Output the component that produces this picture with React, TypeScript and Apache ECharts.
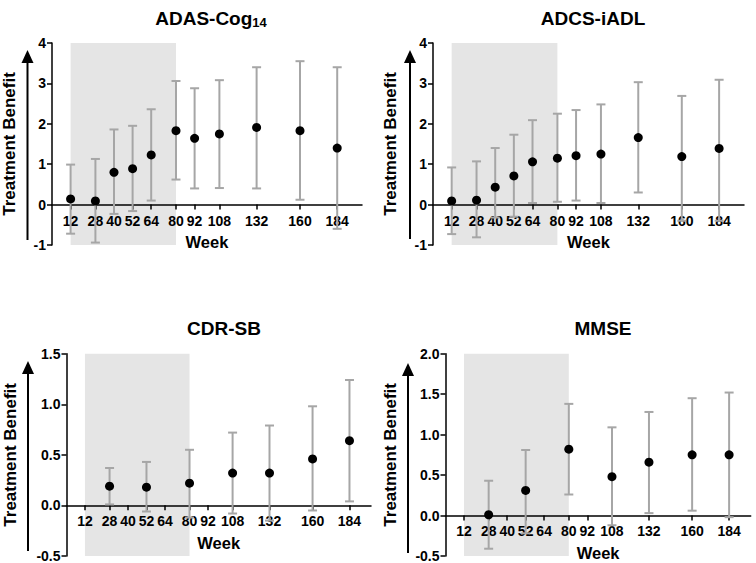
import React, { useEffect, useRef } from "react";
import * as echarts from "echarts";

// ---- data ----
const weekTicks = [12, 28, 40, 52, 64, 80, 92, 108, 132, 160, 184];
const shadeRange = [12, 80];

const adasWeeks = [12, 28, 40, 52, 64, 80, 92, 108, 132, 160, 184];
const adasMean = [0.14, 0.09, 0.8, 0.89, 1.23, 1.83, 1.64, 1.75, 1.91, 1.83, 1.4];
const adasLower = [-0.72, -0.94, -0.23, -0.16, 0.1, 0.62, 0.4, 0.41, 0.4, 0.12, -0.6];
const adasUpper = [0.99, 1.13, 1.86, 1.95, 2.36, 3.06, 2.88, 3.08, 3.4, 3.55, 3.4];

const adcsWeeks = [12, 28, 40, 52, 64, 80, 92, 108, 132, 160, 184];
const adcsMean = [0.09, 0.11, 0.43, 0.71, 1.06, 1.15, 1.21, 1.25, 1.66, 1.19, 1.39];
const adcsLower = [-0.73, -0.81, -0.32, -0.3, 0.04, 0.07, 0.1, 0.04, 0.3, -0.4, -0.4];
const adcsUpper = [0.92, 1.07, 1.4, 1.73, 2.09, 2.25, 2.34, 2.48, 3.03, 2.69, 3.09];

const cdrWeeks = [28, 52, 80, 108, 132, 160, 184];
const cdrMean = [0.19, 0.18, 0.22, 0.32, 0.32, 0.46, 0.64];
const cdrLower = [0.01, -0.06, -0.12, -0.08, -0.15, -0.05, 0.04];
const cdrUpper = [0.37, 0.43, 0.55, 0.72, 0.79, 0.98, 1.24];

const mmseWeeks = [28, 52, 80, 108, 132, 160, 184];
const mmseMean = [0.01, 0.31, 0.82, 0.48, 0.66, 0.75, 0.75];
const mmseLower = [-0.41, -0.22, 0.26, -0.12, 0.03, 0.06, -0.02];
const mmseUpper = [0.43, 0.81, 1.38, 1.09, 1.28, 1.45, 1.52];

const titles = ["{a|ADAS-Cog}{s|14}", "{a|ADCS-iADL}", "{a|CDR-SB}", "{a|MMSE}"];
const yNames = ["Treatment Benefit", "Treatment Benefit", "Treatment Benefit", "Treatment Benefit"];
const xName = "Week";
const yRanges = [
  [-1, 4, 1],
  [-1, 4, 1],
  [-0.5, 1.5, 0.5],
  [-0.5, 2, 0.5],
];
const xMax = [200, 200, 198, 198];

const FONT = "'Liberation Sans', Arial, Helvetica, sans-serif";
const H = 563;

export default function App() {
  const ref = useRef<HTMLDivElement>(null);
  useEffect(() => {
    if (!ref.current) return;
    const chart = echarts.init(ref.current, null, { renderer: "svg" });

    const panels = [
      { w: adasWeeks, m: adasMean, lo: adasLower, hi: adasUpper },
      { w: adcsWeeks, m: adcsMean, lo: adcsLower, hi: adcsUpper },
      { w: cdrWeeks, m: cdrMean, lo: cdrLower, hi: cdrUpper },
      { w: mmseWeeks, m: mmseMean, lo: mmseLower, hi: mmseUpper },
    ];

    const layout = [
      { left: 52, right: 394, top: 43, bottom: 318, titleX: 206, titleY: 2, nameGap: 34, arrowX: 27.5, arrowTop: 50, arrowBottom: 240 },
      { left: 433, right: 12, top: 43, bottom: 318, titleX: 588, titleY: 2, nameGap: 34, arrowX: 410, arrowTop: 50, arrowBottom: 239 },
      { left: 66.5, right: 385, top: 353.7, bottom: 6.7, titleX: 219, titleY: 312, nameGap: 48, arrowX: 28, arrowTop: 361, arrowBottom: 551 },
      { left: 445.5, right: 5.3, top: 353.7, bottom: 6.7, titleX: 598, titleY: 312, nameGap: 47, arrowX: 408, arrowTop: 363, arrowBottom: 553 },
    ];

    const grid: any[] = [];
    const xAxis: any[] = [];
    const yAxis: any[] = [];
    const series: any[] = [];
    const title: any[] = [];
    const graphic: any[] = [];

    panels.forEach((p, i) => {
      const L = layout[i];
      const [ymin, ymax, yint] = yRanges[i];
      const gridH = H - L.top - L.bottom;
      const zeroOffset = -gridH * ((0 - ymin) / (ymax - ymin));
      grid.push({ left: L.left, right: L.right, top: L.top, bottom: L.bottom, containLabel: false });
      title.push({
        text: titles[i],
        left: L.titleX,
        top: L.titleY,
        textAlign: "center",
        textStyle: {
          rich: {
            a: { fontFamily: FONT, fontWeight: "bold", fontSize: 19, color: "#000", lineHeight: 22 },
            s: { fontFamily: FONT, fontWeight: "bold", fontSize: 13, color: "#000", lineHeight: 13, verticalAlign: "bottom" },
          },
        },
      });
      xAxis.push({
        gridIndex: i,
        type: "value",
        min: 0,
        max: xMax[i],
        position: "bottom",
        offset: zeroOffset,
        name: xName,
        nameLocation: "middle",
        nameGap: 29,
        nameTextStyle: { fontFamily: FONT, fontWeight: "bold", fontSize: 16.5, color: "#000" },
        z: 1,
        axisLine: { show: true, onZero: false, lineStyle: { color: "#000", width: 1.5 } },
        axisTick: { show: true, length: 5, customValues: weekTicks, lineStyle: { color: "#000", width: 1.5 } },
        axisLabel: {
          customValues: weekTicks,
          fontFamily: FONT,
          fontWeight: "bold",
          fontSize: 14,
          color: "#000",
          margin: 9,
        },
        splitLine: { show: false },
      });
      yAxis.push({
        gridIndex: i,
        type: "value",
        min: ymin,
        max: ymax,
        interval: yint,
        name: yNames[i],
        nameLocation: "middle",
        nameGap: L.nameGap,
        nameTextStyle: { fontFamily: FONT, fontWeight: "bold", fontSize: 17, color: "#000" },
        z: 1,
        axisLine: { show: true, onZero: false, lineStyle: { color: "#000", width: 1.5 } },
        axisTick: { show: true, length: 5, lineStyle: { color: "#000", width: 1.5 } },
        axisLabel: {
          fontFamily: FONT,
          fontWeight: "bold",
          fontSize: 14,
          color: "#000",
          margin: 6,
          formatter: (v: number) => (yint < 1 ? v.toFixed(1) : String(v)),
        },
        splitLine: { show: false },
      });

      // shaded region
      series.push({
        type: "custom",
        xAxisIndex: i,
        yAxisIndex: i,
        z: 0,
        silent: true,
        data: [[shadeRange[0], shadeRange[1]]],
        encode: { x: [0, 1] },
        renderItem: (params: any, api: any) => {
          const a = api.coord([api.value(0), ymax]);
          const b = api.coord([api.value(1), ymin]);
          return {
            type: "rect",
            shape: { x: a[0], y: a[1], width: b[0] - a[0], height: b[1] - a[1] },
            style: { fill: "#e5e5e5" },
          };
        },
      });

      // error bars
      series.push({
        type: "custom",
        xAxisIndex: i,
        yAxisIndex: i,
        z: 2,
        data: p.w.map((w, k) => [w, p.lo[k], p.hi[k]]),
        encode: { x: 0, y: [1, 2] },
        renderItem: (params: any, api: any) => {
          const x = api.value(0);
          const pl = api.coord([x, api.value(1)]);
          const ph = api.coord([x, api.value(2)]);
          const hw = 4.5;
          const st = { stroke: "#a6a6a6", lineWidth: 2 };
          return {
            type: "group",
            children: [
              { type: "line", shape: { x1: pl[0], y1: pl[1], x2: ph[0], y2: ph[1] }, style: st },
              { type: "line", shape: { x1: pl[0] - hw, y1: pl[1], x2: pl[0] + hw, y2: pl[1] }, style: st },
              { type: "line", shape: { x1: ph[0] - hw, y1: ph[1], x2: ph[0] + hw, y2: ph[1] }, style: st },
            ],
          };
        },
      });

      // points
      series.push({
        type: "scatter",
        xAxisIndex: i,
        yAxisIndex: i,
        z: 3,
        symbol: "circle",
        symbolSize: 9,
        itemStyle: { color: "#000", opacity: 1 },
        data: p.w.map((w, k) => [w, p.m[k]]),
      });

      // arrow
      graphic.push({
        type: "line",
        shape: { x1: L.arrowX, y1: L.arrowBottom, x2: L.arrowX, y2: L.arrowTop + 10 },
        style: { stroke: "#000", lineWidth: 2 },
      });
      graphic.push({
        type: "polygon",
        shape: {
          points: [
            [L.arrowX - 6, L.arrowTop + 13],
            [L.arrowX, L.arrowTop],
            [L.arrowX + 6, L.arrowTop + 13],
          ],
        },
        style: { fill: "#000" },
      });
    });

    chart.setOption({
      animation: false,
      backgroundColor: "#fff",
      textStyle: { fontFamily: FONT },
      title,
      grid,
      xAxis,
      yAxis,
      series,
      graphic,
    });
    return () => chart.dispose();
  }, []);

  return (
    <div
      ref={ref}
      style={{ position: "fixed", left: 0, top: 0, width: 756, height: 563, background: "#fff" }}
    />
  );
}
